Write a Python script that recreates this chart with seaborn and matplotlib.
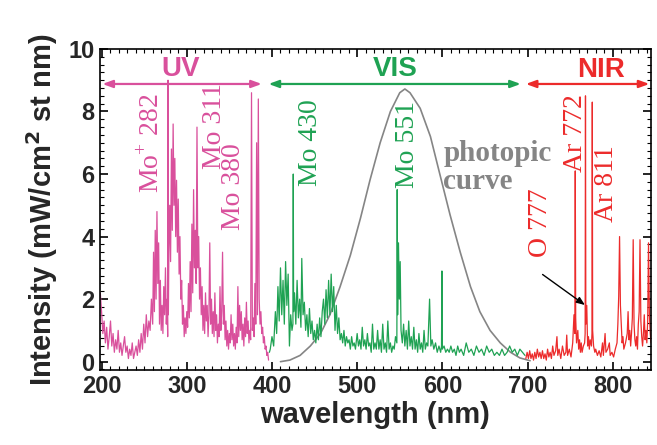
import matplotlib
matplotlib.use('Agg')
import matplotlib.pyplot as plt
import seaborn as sns
from matplotlib.ticker import MultipleLocator

# spectrum values (wavelength nm, intensity)
uv_nm = [198.5, 200, 201.5, 203, 204.5, 206, 207.5, 209, 210.5, 212, 213.5, 215, 216.5, 218, 219.5,
         221, 222.5, 224, 225.5, 227, 228.5, 230, 231.5, 233, 234.5, 236, 237.5, 239, 240.5, 242,
         243.5, 245, 246.5, 248, 249.5, 251, 252.5, 254, 255.5, 257, 258.5, 260, 261, 262, 263, 264,
         265, 266, 267, 268, 269, 270, 271, 272, 273, 274, 275, 276, 277, 277.6, 278, 278.4, 279, 280,
         281, 282, 283, 284, 285, 286, 287, 288, 289, 290, 291, 292, 293, 294, 295, 296, 297, 298,
         299, 300, 301, 302, 303, 304, 305, 306, 307, 308, 309, 310, 311, 312, 313, 314, 315, 316,
         317, 318, 319, 320, 321, 322, 323, 324, 325, 326, 327, 328, 329, 330, 331, 332, 333, 334,
         335, 336, 337, 338, 339, 340, 341, 342, 343, 344, 345, 346, 347, 348, 349, 350, 351, 352,
         353, 354, 355, 356, 357, 358, 359, 360, 361, 362, 363, 364, 365, 366, 367, 368, 369, 370,
         371, 372, 373, 374, 375, 376, 377, 378, 379, 380, 381, 382, 383, 384, 385, 386, 387, 388,
         389, 390, 391, 392, 393, 394, 395, 396]
uv_int = [2.2, 1.6, 0.9, 1.3, 0.6, 1.1, 0.4, 0.8, 1.3, 0.5, 0.9, 0.3, 0.7, 0.4, 1.0,
          0.3, 0.6, 0.2, 0.5, 0.8, 0.3, 0.5, 0.1, 0.4, 0.2, 0.6, 0.1, 0.3, 0.5, 0.2,
          0.7, 0.3, 0.9, 0.4, 1.2, 0.6, 1.5, 0.8, 1.3, 1.0, 2.0, 1.2, 3.5, 1.6, 4.2, 2.0,
          4.8, 2.5, 3.8, 1.2, 2.6, 1.0, 1.8, 0.9, 2.4, 1.5, 3.0, 1.2, 2.0, 0.8, 9.0, 1.5, 3.5, 5.0,
          3.2, 6.8, 4.2, 7.6, 5.0, 6.5, 4.0, 5.8, 3.5, 5.2, 2.8, 4.0, 2.0, 2.6, 1.2, 1.8, 0.8, 1.4,
          0.9, 1.6, 1.1, 2.5, 1.4, 3.2, 1.6, 4.4, 2.2, 5.5, 3.0, 4.2, 2.5, 7.5, 3.0, 4.0, 2.0, 3.0,
          1.5, 2.4, 1.0, 1.8, 0.9, 2.2, 1.3, 1.8, 0.8, 1.5, 3.8, 1.2, 2.0, 0.9, 1.6, 0.8, 2.2, 1.0,
          1.5, 0.6, 1.2, 0.8, 2.4, 1.0, 1.6, 3.5, 1.2, 1.8, 0.7, 1.3, 0.5, 1.0, 0.4, 0.9, 0.6, 1.5,
          0.7, 1.2, 0.5, 0.9, 0.4, 1.1, 0.6, 2.4, 0.8, 1.8, 1.0, 1.6, 0.7, 1.2, 0.5, 1.4, 0.8, 1.9,
          0.9, 1.3, 0.6, 1.0, 0.7, 8.6, 1.0, 1.4, 0.8, 2.5, 1.2, 7.0, 1.5, 8.4, 2.0, 1.2, 1.6, 0.9,
          1.1, 0.6, 0.8, 0.4, 0.5, 0.2, 0.3, 0.05]

vis_nm = [397, 398, 400, 402, 404, 405.5, 407, 408.5, 410, 411.5, 413, 414.5, 416, 417.5, 419,
          420.5, 422, 423.5, 424.6, 425, 425.4, 426.5, 428, 429.5, 431, 432.5, 434, 435, 436.5,
          438, 439.5, 441, 442.5, 444, 445.5, 447, 448.5, 450, 451.5, 453, 454.5, 456, 457.5, 459,
          460.5, 462, 463.5, 465, 466.5, 468, 469.5, 471, 472.5, 474, 475.5, 477, 478.5, 480,
          481.5, 483, 484.5, 486, 487.5, 489, 490.5, 492, 493.5, 495, 496.5, 498, 500, 501.5, 503,
          504.5, 506, 507.5, 509, 510.5, 512, 513.5, 515, 516.5, 518, 519.5, 521, 522.5, 524,
          525.5, 527, 528.5, 530, 531.5, 533, 534.5, 536, 537.5, 539, 540.5, 542, 543.5, 545,
          546.6, 547, 547.5, 548.5, 549.5, 550.5, 551.5, 553, 554.5, 556, 557.5, 559, 560.5, 562,
          563.5, 565, 566.5, 568, 569.5, 571, 572.5, 574, 575.5, 577, 578.5, 580, 581.5, 583, 585,
          586.5, 588, 590, 592, 594, 596, 598, 599, 599.5, 600, 602, 604, 606, 608, 610, 612, 614,
          616, 618, 620, 622, 625, 628, 631, 634, 637, 640, 643, 646, 649, 652, 655, 658, 661, 664,
          667, 670, 673, 676, 679, 682, 685, 688, 691, 694, 697]
vis_int = [0.3, 0.4, 0.8, 0.5, 1.6, 0.9, 2.4, 1.3, 3.0, 1.5, 2.6, 1.2, 3.2, 1.8, 2.8,
           0.5, 1.5, 1.0, 1.2, 6.0, 1.6, 2.2, 1.2, 2.6, 1.4, 2.0, 1.1, 3.3, 1.5,
           1.9, 1.0, 1.5, 0.8, 1.7, 0.9, 1.3, 0.7, 1.0, 0.6, 1.2, 0.7, 1.4, 0.8, 1.6,
           2.0, 1.2, 2.3, 1.4, 2.6, 1.5, 2.8, 1.6, 2.4, 1.0, 1.8, 0.9, 1.4, 0.7,
           0.9, 0.6, 1.0, 0.5, 0.8, 0.6, 0.7, 0.4, 0.8, 0.5, 0.6, 0.4, 0.9, 0.5, 0.7,
           0.4, 1.1, 0.5, 0.7, 0.4, 0.9, 0.5, 0.6, 0.3, 1.2, 0.4, 0.6, 0.4, 1.0,
           0.4, 0.7, 0.3, 1.2, 0.4, 0.6, 0.3, 1.3, 0.4, 0.6, 0.3, 0.5, 0.4, 0.8,
           0.6, 5.5, 1.5, 3.8, 2.0, 3.2, 1.0, 0.6, 1.2, 0.5, 1.0, 0.4, 1.3, 0.5,
           0.8, 0.4, 1.1, 0.4, 0.7, 0.3, 0.9, 0.4, 0.6, 0.3, 1.0, 0.4, 0.6, 0.5, 2.0,
           0.5, 0.7, 0.4, 0.6, 0.3, 0.5, 0.3, 0.5, 2.9, 0.4, 0.5, 0.3, 0.4, 0.3, 0.5, 0.3, 0.4,
           0.2, 0.5, 0.3, 0.4, 0.2, 0.6, 0.3, 0.4, 0.2, 0.5, 0.3, 0.4, 0.2, 0.5, 0.3, 0.4, 0.2, 0.3,
           0.2, 0.4, 0.2, 0.3, 0.5, 0.3, 0.4, 0.2, 0.4, 0.3, 0.2]

nir_nm = [698, 699.5, 701, 702.5, 704, 705.5, 707, 708.5, 710, 711.5, 713, 714.5, 716, 717.5, 719,
          720.5, 722, 723.5, 725, 726.5, 728, 729.5, 731, 733, 734.5, 735.5, 737, 739, 741, 743,
          745, 746, 747, 749, 751, 753, 754.5, 755.5, 756, 756.5, 757.5, 759, 760, 761, 762, 763,
          764, 765.5, 767, 767.6, 768, 768.4, 769.5, 770.5, 771.5, 772.5, 773.5, 775, 775.6, 776,
          776.4, 777.5, 779, 780, 782, 784, 786, 788, 789, 791, 792, 794, 796, 797, 799, 801, 803,
          805, 806, 807, 808, 809, 810, 811, 812, 813, 815, 817, 818, 819, 820, 821, 822, 823, 824,
          825, 826, 827, 828, 829, 830, 831, 832, 833, 834, 835, 836, 837, 838, 839, 840, 841, 842,
          843, 844, 845]
nir_int = [0.1, 0.3, 0.1, 0.35, 0.1, 0.25, 0.05, 0.3, 0.1, 0.4, 0.15, 0.3, 0.1, 0.35, 0.1,
           0.25, 0.05, 0.4, 0.15, 0.3, 0.1, 0.5, 0.2, 0.35, 0.8, 0.2, 0.4, 0.1, 0.5, 0.2,
           0.3, 0.85, 0.2, 0.4, 0.15, 0.6, 1.5, 0.9, 6.1, 1.4, 0.6, 1.0, 0.4, 0.7, 0.3, 0.6,
           0.3, 0.5, 0.6, 0.9, 8.5, 1.2, 1.8, 0.5, 0.8, 0.4, 0.7, 0.5, 0.9, 8.3,
           1.0, 0.5, 0.3, 0.4, 0.2, 0.35, 0.15, 0.6, 0.2, 0.9, 0.3, 0.4, 0.6, 0.2, 0.3, 0.15, 0.4,
           0.6, 1.2, 2.1, 4.0, 1.8, 1.2, 0.6, 0.8, 0.4, 0.6, 0.9, 1.6, 0.7, 1.0, 0.5, 0.9, 1.4, 3.9,
           1.2, 0.7, 0.5, 0.8, 0.4, 1.2, 1.6, 3.9, 1.3, 0.8, 0.5, 0.9, 1.5, 0.7, 1.0, 0.6, 1.3, 3.8,
           1.5, 0.9, 0.6]

photopic_nm = [410, 421, 433, 445, 457, 468, 480, 492, 504, 515, 527, 539, 550, 556, 562, 574,
               586, 597, 609, 621, 633, 644, 656, 668, 680, 691, 703]
photopic_int = [0.0, 0.05, 0.2, 0.5, 0.9, 1.5, 2.4, 3.4, 4.6, 5.8, 7.0, 8.0, 8.6, 8.72, 8.6, 8.1,
                7.2, 6.0, 4.7, 3.5, 2.4, 1.6, 1.0, 0.6, 0.3, 0.12, 0.03]

PINK = '#d9509c'
GREEN = '#1fa253'
RED = '#ec2b2b'
GRAY = '#858585'

sns.set_style('ticks')
plt.rcParams['font.family'] = ['Liberation Sans', 'DejaVu Sans']
plt.rcParams['mathtext.fontset'] = 'custom'
plt.rcParams['mathtext.rm'] = 'Liberation Serif'

fig = plt.figure(figsize=(6.57, 4.45), dpi=100)
ax = fig.add_axes([0.152, 0.169, 0.839, 0.721])

sns.lineplot(x=photopic_nm, y=photopic_int, color=GRAY, lw=1.2, sort=False, estimator=None, ax=ax)
sns.lineplot(x=uv_nm, y=uv_int, color=PINK, lw=0.9, sort=False, estimator=None, ax=ax)
sns.lineplot(x=vis_nm, y=vis_int, color=GREEN, lw=0.9, sort=False, estimator=None, ax=ax)
sns.lineplot(x=nir_nm, y=nir_int, color=RED, lw=0.9, sort=False, estimator=None, ax=ax)

ax.set_xlim(198, 845)
ax.set_ylim(-0.26, 10)
ax.xaxis.set_major_locator(MultipleLocator(100))
ax.xaxis.set_minor_locator(MultipleLocator(10))
ax.yaxis.set_major_locator(MultipleLocator(2))
ax.yaxis.set_minor_locator(MultipleLocator(0.25))
ax.tick_params(which='both', direction='in', top=True, right=True, color='black')
ax.tick_params(which='major', length=6, width=1.2, labelsize=17, pad=4)
ax.tick_params(which='minor', length=3, width=0.8)
for lab in ax.get_xticklabels() + ax.get_yticklabels():
    lab.set_fontweight('bold')
for sp in ax.spines.values():
    sp.set_color('black')
    sp.set_linewidth(1.2)

ax.set_xlabel('wavelength (nm)', fontsize=21, fontweight='bold', labelpad=2)
ax.set_ylabel('Intensity (mW/cm$^\\mathbf{2}$ st nm)', fontsize=21, fontweight='bold', labelpad=6)

# region arrows
arrow_y = 8.88
for x0, x1, c in [(201, 388, PINK), (396, 692, GREEN), (698, 843, RED)]:
    ax.annotate('', xy=(x1, arrow_y), xytext=(x0, arrow_y),
                arrowprops=dict(arrowstyle='<|-|>,head_length=0.6,head_width=0.22', color=c, lw=1.6,
                                shrinkA=0, shrinkB=0))
ax.text(293, 9.36, 'UV', color=PINK, fontsize=20, fontweight='bold', ha='center', va='center')
ax.text(545, 9.36, 'VIS', color=GREEN, fontsize=20, fontweight='bold', ha='center', va='center')
ax.text(786, 9.33, 'NIR', color=RED, fontsize=20, fontweight='bold', ha='center', va='center')

serif = ['Liberation Serif', 'DejaVu Serif']
line_labels = [
    (259, 7.0, 'Mo$^{+}$ 282', PINK),
    (332, 7.55, 'Mo 311', PINK),
    (354.5, 5.6, 'Mo 380', PINK),
    (445, 7.0, 'Mo 430', GREEN),
    (559, 6.95, 'Mo 551', GREEN),
    (715, 4.45, 'O 777', RED),
    (756, 7.3, 'Ar 772', RED),
    (793, 5.7, 'Ar 811', RED),
]
for x, y, t, c in line_labels:
    ax.text(x, y, t, color=c, fontsize=20, family=serif, rotation=90, ha='center', va='center')

ax.text(601, 7.1, 'photopic\ncurve', color=GRAY, fontsize=21, fontweight='bold', family=serif,
        ha='left', va='top', linespacing=1.05)

ax.annotate('', xy=(770, 1.76), xytext=(715, 2.84),
            arrowprops=dict(arrowstyle='-|>,head_length=0.5,head_width=0.2', color='black', lw=1.0))

fig.savefig('out.png', dpi=100)
